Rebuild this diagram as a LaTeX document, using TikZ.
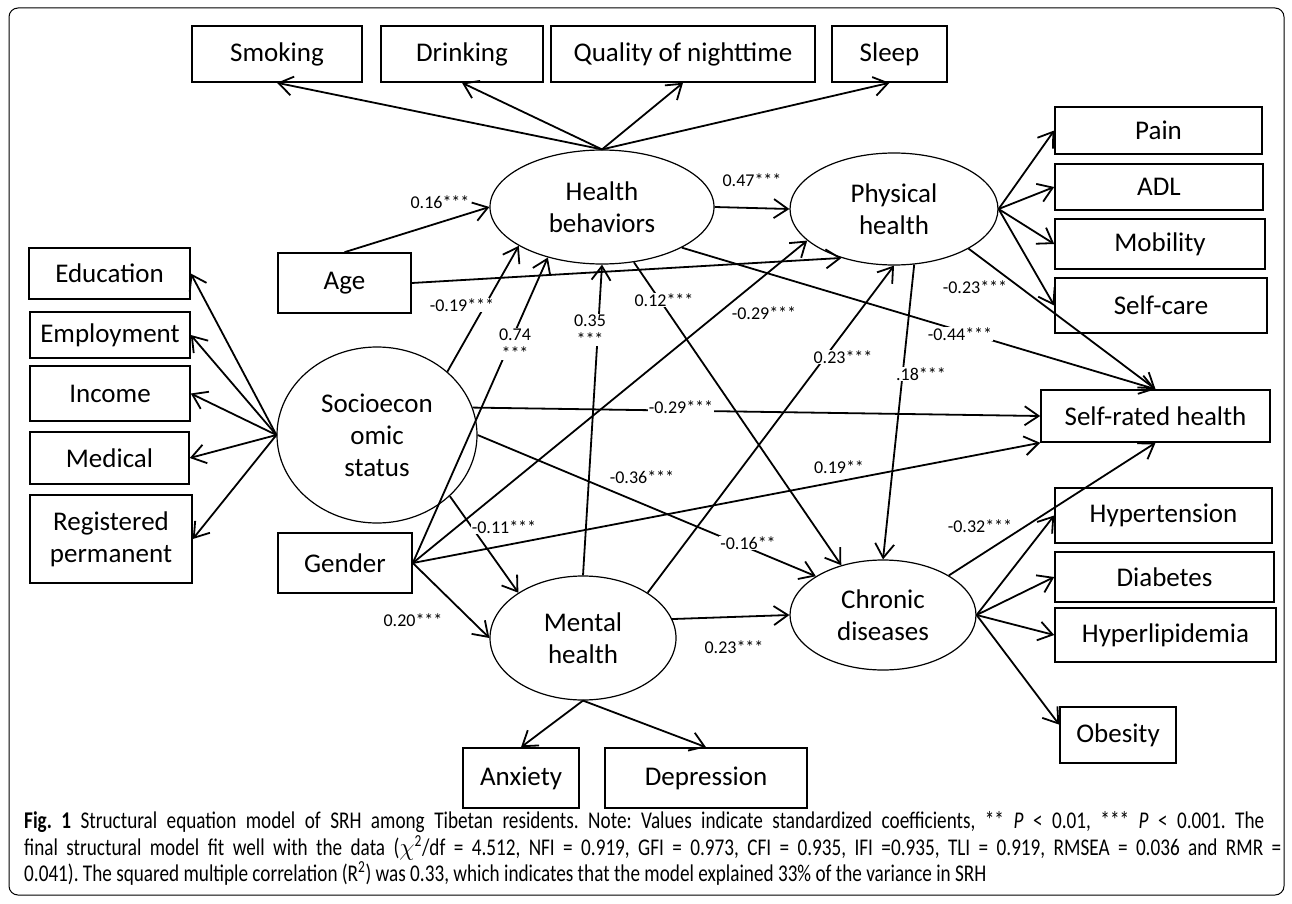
\documentclass[tikz,border=0pt]{standalone}
\usepackage{fontspec}
\setmainfont{Carlito}
\newfontfamily\capfont[FakeStretch=0.8]{Carlito}
\usetikzlibrary{shapes.geometric,arrows.meta}
\pgfdeclarelayer{nodelayer}
\pgfdeclarelayer{edgelayer}
\pgfsetlayers{edgelayer,nodelayer,main}
\newcommand{\nodetext}{\fontsize{27}{32}\selectfont}
\newcommand{\coeftext}{\fontsize{18}{19}\selectfont}
\newcommand{\captext}{\capfont\fontsize{24}{25}\selectfont\frenchspacing}
\tikzstyle{box}=[draw=black, line width=1.6pt, shape=rectangle, inner sep=0pt, font=\nodetext, align=center]
\tikzstyle{latent}=[draw=black, line width=1.2pt, shape=ellipse, inner sep=0pt, font=\nodetext, align=center]
\tikzstyle{coef}=[fill=white, inner sep=1pt, font=\coeftext, align=center]
\tikzstyle{caption}=[anchor=west, inner sep=0pt, font=\captext]
\tikzstyle{directed edge}=[->, line width=1.8pt]

\begin{document}
\begin{tikzpicture}[x=1pt, y=-1pt, >={Straight Barb[length=14pt,width=19pt]}]
	\useasboundingbox (0,0) rectangle (1292,904);
	\draw [line width=1pt, rounded corners=9pt] (9,8) rectangle (1284,895);
	\begin{pgfonlayer}{nodelayer}
		% indicators of health behaviors
		\node [style=box, minimum width=170, minimum height=56] (0) at (277,54) {Smoking};
		\node [style=box, minimum width=162, minimum height=56] (1) at (462,54) {Drinking};
		\node [style=box, minimum width=264, minimum height=56] (2) at (683,54) {Quality of nighttime};
		\node [style=box, minimum width=115, minimum height=56] (3) at (889.5,54) {Sleep};
		% latent variables
		\node [style=latent, minimum width=224, minimum height=114] (4) at (602,207) {Health\\behaviors};
		\node [style=latent, minimum width=208, minimum height=112] (5) at (894,209) {Physical\\health};
		\node [style=box, minimum width=207, minimum height=47] (6) at (1158.5,130.5) {Pain};
		\node [style=box, minimum width=208, minimum height=46] (7) at (1159,187) {ADL};
		\node [style=box, minimum width=210, minimum height=50] (8) at (1160,244) {Mobility};
		\node [style=box, minimum width=212, minimum height=55] (9) at (1161,305.5) {Self-care};
		% socioeconomic indicators
		\node [style=box, minimum width=161, minimum height=51] (10) at (109.5,273.5) {Education};
		\node [style=box, minimum width=160, minimum height=46] (11) at (110,335) {Employment};
		\node [style=box, minimum width=160, minimum height=55] (12) at (110,393.5) {Income};
		\node [style=box, minimum width=159, minimum height=52] (13) at (109.5,458) {Medical};
		\node [style=box, minimum width=162, minimum height=88] (14) at (111,539) {Registered\\permanent};
		\node [style=box, minimum width=133, minimum height=60] (15) at (344.5,283) {Age};
		\node [style=latent, minimum width=200, minimum height=176] (16) at (377,435) {Socioecon\\omic\\status};
		\node [style=box, minimum width=134, minimum height=60] (17) at (345,563) {Gender};
		\node [style=latent, minimum width=186, minimum height=124] (18) at (583,638) {Mental\\health};
		\node [style=latent, minimum width=186, minimum height=110] (19) at (883,615) {Chronic\\diseases};
		% outcome and disease indicators
		\node [style=box, minimum width=229, minimum height=52] (20) at (1155.5,416) {Self-rated health};
		\node [style=box, minimum width=217, minimum height=55] (21) at (1163.5,515.5) {Hypertension};
		\node [style=box, minimum width=219, minimum height=50] (22) at (1164.5,577) {Diabetes};
		\node [style=box, minimum width=221, minimum height=54] (23) at (1165.5,635) {Hyperlipidemia};
		\node [style=box, minimum width=116, minimum height=56] (24) at (1118,735) {Obesity};
		\node [style=box, minimum width=116, minimum height=60] (25) at (521,778) {Anxiety};
		\node [style=box, minimum width=202, minimum height=60] (26) at (706,778) {Depression};
		% path coefficients
		\node [style=coef] (27) at (440,202) {0.16***};
		\node [style=coef] (28) at (752,180) {0.47***};
		\node [style=coef] (29) at (462,305) {-0.19***};
		\node [style=coef] (30) at (515,344) {0.74\\***};
		\node [style=coef] (31) at (590,330) {0.35\\***};
		\node [style=coef] (32) at (664,300) {0.12***};
		\node [style=coef] (33) at (764,313) {-0.29***};
		\node [style=coef] (34) at (975,287) {-0.23***};
		\node [style=coef] (35) at (960,334) {-0.44***};
		\node [style=coef] (36) at (843,357) {0.23***};
		\node [style=coef] (37) at (921,374) {.18***};
		\node [style=coef] (38) at (681,407) {-0.29***};
		\node [style=coef] (39) at (839,467) {0.19**};
		\node [style=coef] (40) at (642,477) {-0.36***};
		\node [style=coef] (41) at (504,527) {-0.11***};
		\node [style=coef] (42) at (748,543) {-0.16**};
		\node [style=coef] (43) at (413,620) {0.20***};
		\node [style=coef] (44) at (734,647) {0.23***};
		\node [style=coef] (45) at (980,526) {-0.32***};
		% caption
		\node [style=caption] (46) at (24,822) {\hbox to 1240pt{\textbf{Fig. 1} Structural equation model of SRH among Tibetan residents. Note: Values indicate standardized coefficients, ** \textit{P} < 0.01, *** \textit{P} < 0.001. The}};
		\node [style=caption] (47) at (24,848) {\hbox to 1257pt{final structural model fit well with the data (\textit{$\chi$}\textsuperscript{2}/df = 4.512, NFI = 0.919, GFI = 0.973, CFI = 0.935, IFI =0.935, TLI = 0.919, RMSEA = 0.036 and RMR =}};
		\node [style=caption] (48) at (24,873) {0.041). The squared multiple correlation (R\textsuperscript{2}) was 0.33, which indicates that the model explained 33\% of the variance in SRH};
	\end{pgfonlayer}
	\begin{pgfonlayer}{edgelayer}
		% measurement arrows
		\draw [style=directed edge] (4.north) to (0.south);
		\draw [style=directed edge] (4.north) to (1.south);
		\draw [style=directed edge] (4.north) to (2.south);
		\draw [style=directed edge] (4.north) to (3.south);
		\draw [style=directed edge] (5.east) to (6.west);
		\draw [style=directed edge] (5.east) to (7.west);
		\draw [style=directed edge] (5.east) to (8.west);
		\draw [style=directed edge] (5.east) to (9.west);
		\draw [style=directed edge] (16.west) to (10.east);
		\draw [style=directed edge] (16.west) to (11.east);
		\draw [style=directed edge] (16.west) to (12.east);
		\draw [style=directed edge] (16.west) to (13.east);
		\draw [style=directed edge] (16.west) to (14.east);
		\draw [style=directed edge] (18.south) to (25.north);
		\draw [style=directed edge] (18.south) to (26.north);
		\draw [style=directed edge] (19.east) to (21.west);
		\draw [style=directed edge] (19.east) to (22.west);
		\draw [style=directed edge] (19.east) to (23.west);
		\draw [style=directed edge] (19.east) to (24.170);
		% structural paths
		\draw [style=directed edge] (15.north) to (4.west);
		\draw [style=directed edge] (15.east) to (5.223);
		\draw [style=directed edge] (4.east) to (5.west);
		\draw [style=directed edge] (16.42) to (4.205);
		\draw [style=directed edge] (17.east) to (4.223);
		\draw [style=directed edge] (18.north) to (4.south);
		\draw [style=directed edge] (4.300) to (19.130);
		\draw [style=directed edge] (17.east) to (5.200);
		\draw [style=directed edge] (4.333) to (20.north);
		\draw [style=directed edge] (5.332) to (20.north);
		\draw [style=directed edge] (5.290) to (19.north);
		\draw [style=directed edge] (18.35) to (5.south);
		\draw [style=directed edge] (16.16) to (20.west);
		\draw [style=directed edge] (17.east) to (20.south west);
		\draw [style=directed edge] (16.east) to (19.150);
		\draw [style=directed edge] (16.320) to (18.145);
		\draw [style=directed edge] (17.east) to (18.west);
		\draw [style=directed edge] (18.12) to (19.west);
		\draw [style=directed edge] (19.31) to (20.south);
	\end{pgfonlayer}
\end{tikzpicture}
\end{document}
